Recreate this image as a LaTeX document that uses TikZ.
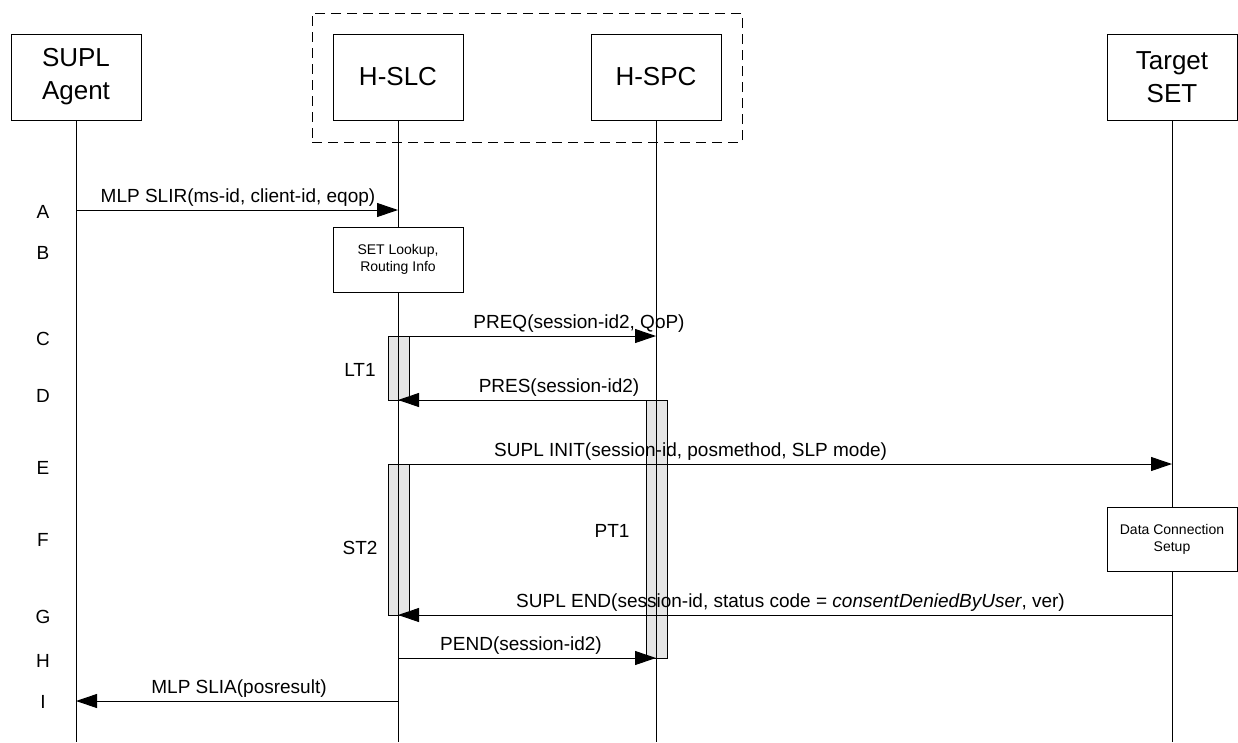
\documentclass[tikz,border=0pt]{standalone}
\usepackage{fontspec}
\setmainfont{Liberation Sans}
\usetikzlibrary{arrows.meta}
\begin{document}
\begin{tikzpicture}[x=1pt,y=-1pt,
  hdr/.style={draw, line width=1pt, minimum width=130pt, minimum height=86pt, align=center, font=\fontsize{26}{33}\selectfont, inner sep=0pt},
  grpbox/.style={draw, line width=1pt, dash pattern=on 10pt off 6pt, minimum width=430pt, minimum height=129pt, inner sep=0pt},
  life/.style={line width=0.9pt},
  msg/.style={line width=1pt, -{Triangle[length=21pt,width=14pt]}},
  lbl/.style={font=\fontsize{19}{22}\selectfont, inner sep=0pt, anchor=base},
  lblw/.style={lbl, anchor=base west},
  rowlbl/.style={font=\fontsize{19}{22}\selectfont, inner sep=0pt},
  actbar/.style={draw, fill=black!10, line width=0.9pt, minimum width=21pt, inner sep=0pt},
  proc/.style={draw, fill=white, line width=1pt, align=center, font=\fontsize{14}{17}\selectfont, inner sep=0pt, minimum width=130pt},
]
\useasboundingbox (0,0) rectangle (1238,742);

% header boxes
\node[grpbox] (grp) at (527,77.5) {};
\node[hdr] (sa)  at (76,77)   {SUPL\\Agent};
\node[hdr] (slc) at (398,77)  {H-SLC};
\node[hdr] (spc) at (656,77)  {H-SPC};
\node[hdr] (set) at (1172,77) {Target\\SET};

% lifeline ends
\coordinate (saE)  at (76,742);
\coordinate (slcE) at (398,742);
\coordinate (spcE) at (656,742);
\coordinate (setE) at (1172,742);

% message points
\coordinate (saA)  at (76,210);
\coordinate (slcA) at (398,210);
\coordinate (slcC) at (398,336);
\coordinate (spcC) at (656,336);
\coordinate (spcD) at (656,400);
\coordinate (slcD) at (398,400);
\coordinate (slcE1) at (398,464);
\coordinate (setE1) at (1172,464);
\coordinate (setG) at (1172,615);
\coordinate (slcG) at (398,615);
\coordinate (slcH) at (398,658);
\coordinate (spcH) at (656,658);
\coordinate (slcI) at (398,701);
\coordinate (saI)  at (76,701);

% activation bars
\node[actbar, minimum height=64pt]  (lt1) at (398.5,368) {};
\node[actbar, minimum height=151pt] (st2) at (398.5,539.5) {};
\node[actbar, minimum height=258pt] (pt1) at (656.5,529) {};

% lifelines
\draw[life] (sa.south)  -- (saE);
\draw[life] (slc.south) -- (slcE);
\draw[life] (spc.south) -- (spcE);
\draw[life] (set.south) -- (setE);

% messages
\draw[msg] (saA) -- (slcA);
\draw[msg] (slcC) -- (spcC);
\draw[msg] (spcD) -- (slcD);
\draw[msg] (slcE1) -- (setE1);
\draw[msg] (setG) -- (slcG);
\draw[msg] (slcH) -- (spcH);
\draw[msg] (slcI) -- (saI);

% process boxes
\node[proc, minimum height=65pt] (lookup) at (398,259.5) {SET Lookup,\\Routing Info};
\node[proc, minimum height=64pt] (dcs) at (1172,539) {Data Connection\\Setup};

% message labels
\node[lbl]  (lA) at (238,202) {MLP SLIR(ms-id, client-id, eqop)};
\node[lbl]  (lC) at (579,328) {PREQ(session-id2, QoP)};
\node[lbl]  (lD) at (559,392) {PRES(session-id2)};
\node[lblw] (lE) at (494,456) {SUPL INIT(session-id, posmethod, SLP mode)};
\node[lblw] (lG) at (516,607) {SUPL END(session-id, status code = \textit{consentDeniedByUser}, ver)};
\node[lbl]  (lH) at (521,650) {PEND(session-id2)};
\node[lbl]  (lI) at (239,693) {MLP SLIA(posresult)};

% timer labels
\node[rowlbl] (tLT1) at (360,370) {LT1};
\node[rowlbl] (tST2) at (360,548) {ST2};
\node[rowlbl] (tPT1) at (612,531) {PT1};

% row letters
\node[rowlbl] (rA) at (43,212) {A};
\node[rowlbl] (rB) at (43,253) {B};
\node[rowlbl] (rC) at (43,339) {C};
\node[rowlbl] (rD) at (43,396) {D};
\node[rowlbl] (rE) at (43,468) {E};
\node[rowlbl] (rF) at (43,540) {F};
\node[rowlbl] (rG) at (43,617) {G};
\node[rowlbl] (rH) at (43,661) {H};
\node[rowlbl] (rI) at (43,702) {I};
\end{tikzpicture}
\end{document}
